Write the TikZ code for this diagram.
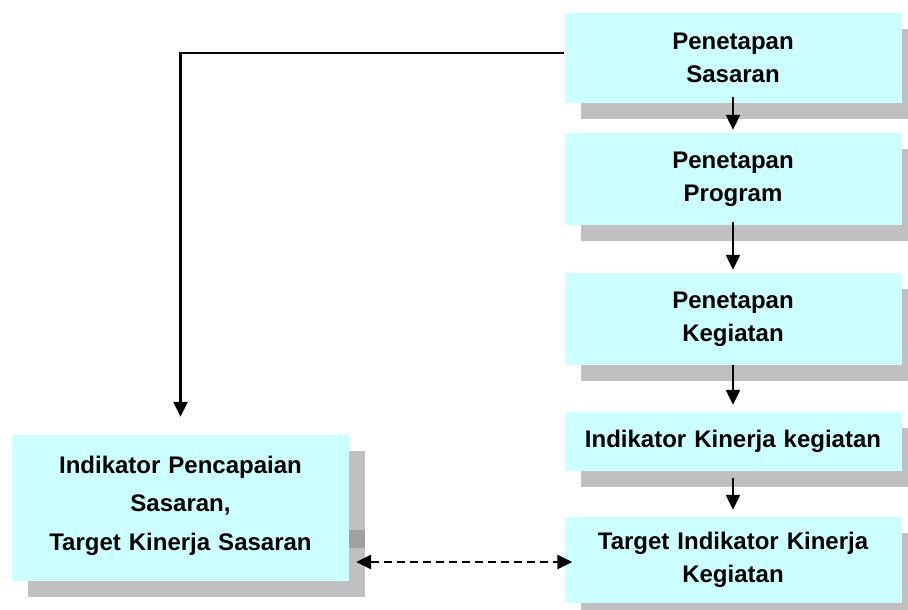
\documentclass[tikz,border=0pt]{standalone}
\usepackage{fontspec}
\setmainfont{Liberation Sans}
\usetikzlibrary{arrows.meta,shadows}
\definecolor{boxcyan}{HTML}{CCFFFF}
\definecolor{shadowgray}{HTML}{C0C0C0}
\definecolor{darkpatch}{HTML}{A0A0A0}
\tikzset{
  box/.style={fill=boxcyan, draw=none, text width=337pt, inner sep=0pt,
    align=center, font=\fontsize{24}{33}\selectfont\bfseries,
    drop shadow={shadow xshift=16pt, shadow yshift=-16pt, fill=shadowgray, opacity=1}},
  arr/.style={line width=2.3pt, -{Triangle[length=15pt,width=14pt]}},
  darr/.style={line width=2.5pt, dash pattern=on 8pt off 5pt,
    {Triangle[length=15pt,width=14pt]}-{Triangle[length=15pt,width=14pt]}}
}
\begin{document}
\begin{tikzpicture}[x=1pt,y=-1pt]
\useasboundingbox (0,0) rectangle (908,610);
\clip (0,0) rectangle (908,610);
\fill[white] (0,0) rectangle (908,610);

\node[box, minimum height=90pt] (b1) at (733,58) {Penetapan\\Sasaran};
\node[box, minimum height=92pt] (b2) at (733,179) {Penetapan\\Program};
\node[box, minimum height=92pt] (b3) at (733,319) {Penetapan\\Kegiatan};
\node[box, minimum height=59pt] (b4) at (733,441.5) {Indikator Kinerja kegiatan};
\node[box, minimum height=86pt] (b5) at (733,560) {Target Indikator Kinerja\\Kegiatan};
\node[box, minimum height=146pt, font=\fontsize{24}{38.5}\selectfont\bfseries] (L) at (180.5,508)
  {Indikator Pencapaian\\Sasaran,\\Target Kinerja Sasaran\vspace*{5pt}};
\fill[darkpatch] (349,530) rectangle (365,548);

\draw[arr] ([yshift=5pt]b1.west) -| ([yshift=18pt]L.north);
\draw[arr] ([yshift=6pt]b1.south) -- ([yshift=3pt]b2.north);
\draw[arr] ([yshift=3pt]b2.south) -- ([yshift=3pt]b3.north);
\draw[arr] (b3.south) -- ([yshift=7pt]b4.north);
\draw[arr] ([yshift=-7pt]b4.south) -- ([yshift=7pt]b5.north);
\draw[darr] ([xshift=7pt,yshift=-2pt]L.east |- b5.west) -- ([xshift=8pt,yshift=-2pt]b5.west);
\end{tikzpicture}
\end{document}
